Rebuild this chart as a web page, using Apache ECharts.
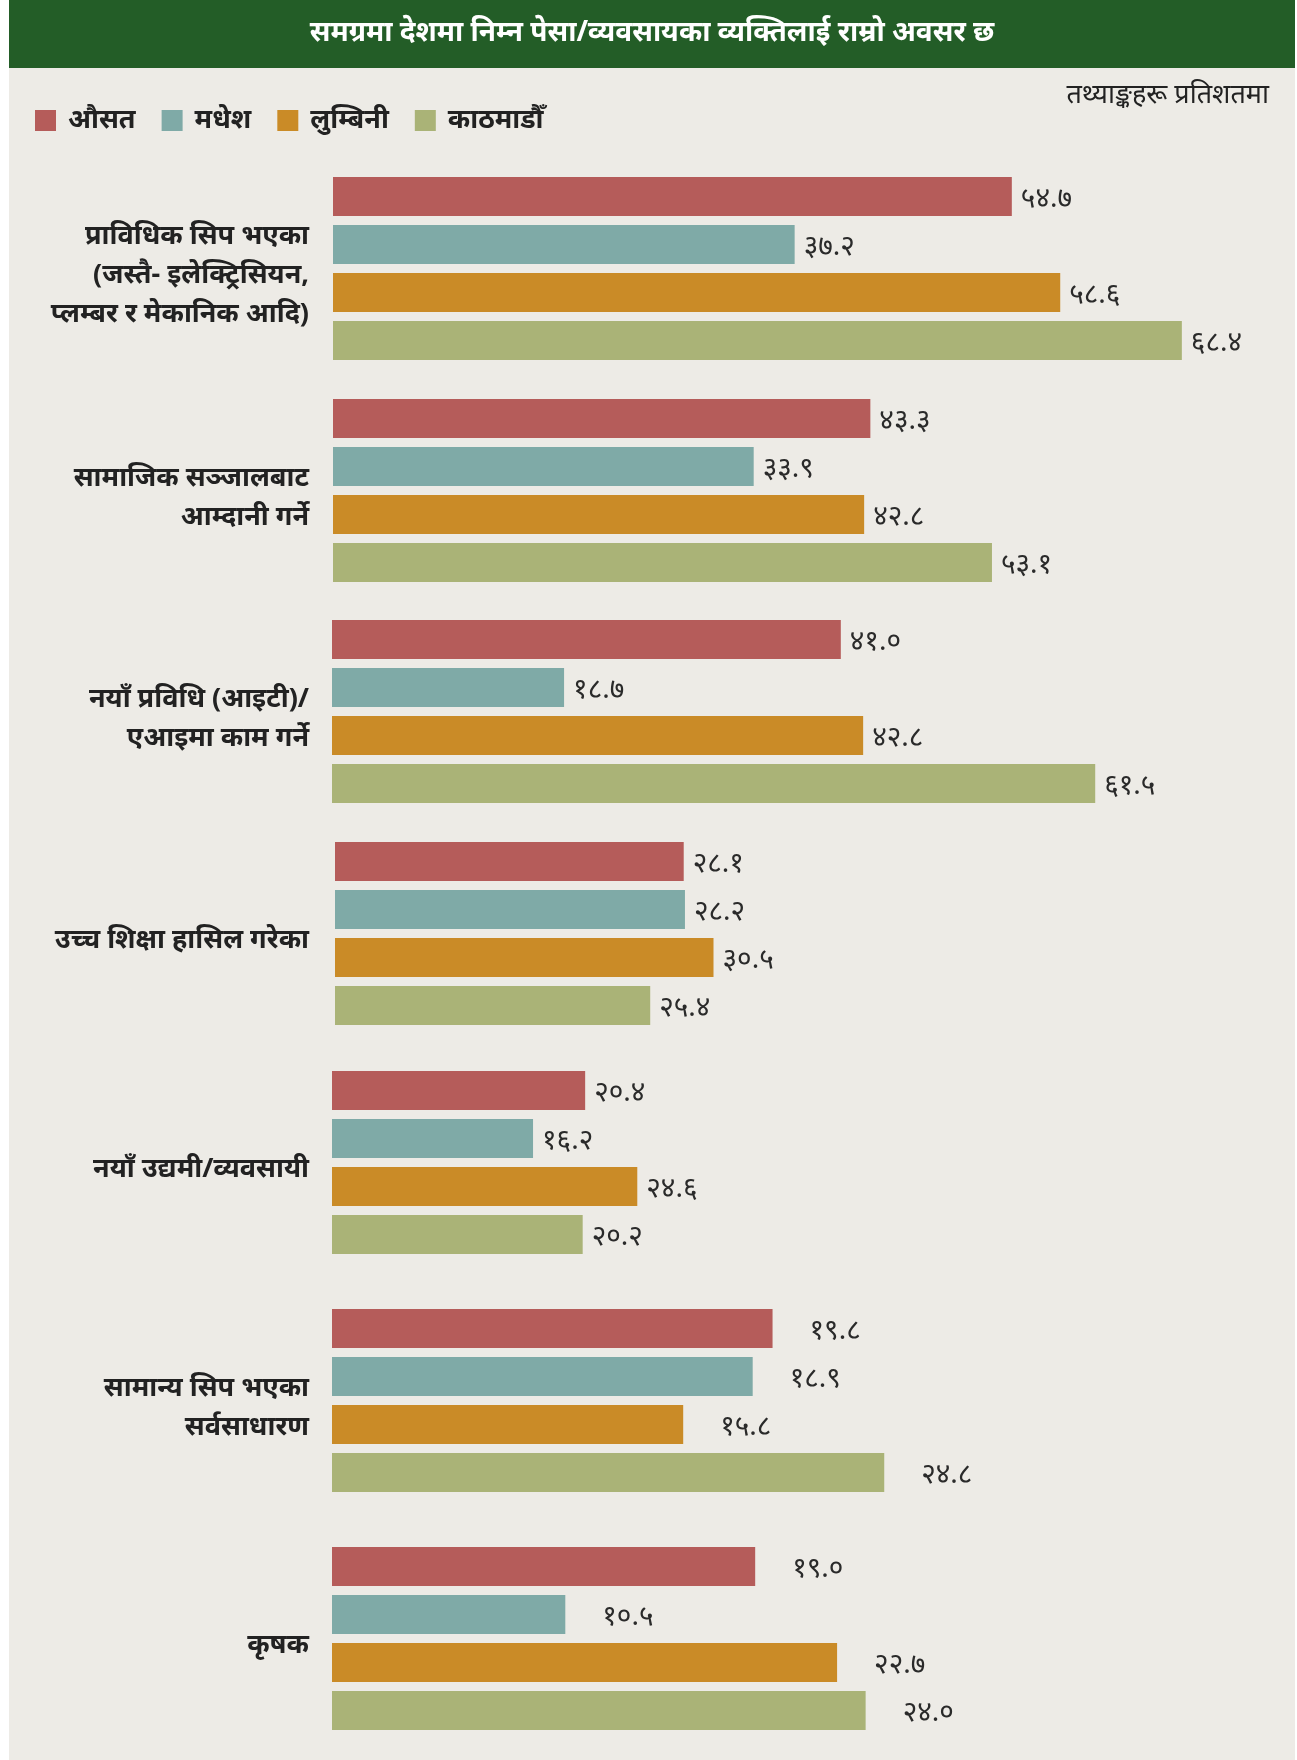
<!DOCTYPE html>
<html>
<head>
<meta charset="utf-8">
<script src="https://cdn.jsdelivr.net/npm/echarts@6/dist/echarts.min.js"></script>
<style>
html,body{margin:0;padding:0;background:#ffffff;}
#chart{width:1297px;height:1760px;}
</style>
</head>
<body>
<div id="chart"></div>
<script>
// ---- data ----
const categories = [
  'प्राविधिक सिप भएका\n(जस्तै- इलेक्ट्रिसियन,\nप्लम्बर र मेकानिक आदि)',
  'सामाजिक सञ्जालबाट\nआम्दानी गर्ने',
  'नयाँ प्रविधि (आइटी)/\nएआइमा काम गर्ने',
  'उच्च शिक्षा हासिल गरेका',
  'नयाँ उद्यमी/व्यवसायी',
  'सामान्य सिप भएका\nसर्वसाधारण',
  'कृषक'
];
const seriesNames = ['औसत', 'मधेश', 'लुम्बिनी', 'काठमाडौँ'];
// bar lengths as drawn in the picture
const ausat     = [54.7, 43.3, 41.0, 28.1, 20.4, 35.5, 34.1];
const madhesh   = [37.2, 33.9, 18.7, 28.2, 16.2, 33.9, 18.8];
const lumbini   = [58.6, 42.8, 42.8, 30.5, 24.6, 28.3, 40.7];
const kathmandu = [68.4, 53.1, 61.5, 25.4, 20.2, 44.5, 43.0];
// values as printed next to the bars
const ausatLabel     = [54.7, 43.3, 41.0, 28.1, 20.4, 19.8, 19.0];
const madheshLabel   = [37.2, 33.9, 18.7, 28.2, 16.2, 18.9, 10.5];
const lumbiniLabel   = [58.6, 42.8, 42.8, 30.5, 24.6, 15.8, 22.7];
const kathmanduLabel = [68.4, 53.1, 61.5, 25.4, 20.2, 24.8, 24.0];

const titleText = 'समग्रमा देशमा निम्न पेसा/व्यवसायका व्यक्तिलाई राम्रो अवसर छ';
const unitText = 'तथ्याङ्कहरू प्रतिशतमा';

// ---- layout / style ----
const colors = ['#b55c5a', '#7faaa7', '#ca8b27', '#aab377'];
const groupTops = [177, 399, 620, 842, 1071, 1309, 1547];
const groupLefts = [333, 333, 332, 335, 332, 332, 332];
const labelDist = [9, 9, 9, 9, 9, 37, 37];
const axisMax = 75;
const pxPerUnit = 12.41;
const FONT = '"Noto Sans", "Noto Sans Devanagari", sans-serif';

const barData = [ausat, madhesh, lumbini, kathmandu];
const labelData = [ausatLabel, madheshLabel, lumbiniLabel, kathmanduLabel];
const devDigits = '०१२३४५६७८९';
const toDev = s => String(s).replace(/[0-9]/g, d => devDigits[+d]);

const grids = [], xAxes = [], yAxes = [], series = [];
categories.forEach((cat, g) => {
  grids.push({left: groupLefts[g], top: groupTops[g], width: axisMax * pxPerUnit, height: 183, containLabel: false});
  xAxes.push({type: 'value', gridIndex: g, min: 0, max: axisMax, show: false});
  yAxes.push({
    type: 'category', gridIndex: g, data: [cat], inverse: true,
    axisLine: {show: false}, axisTick: {show: false}, splitLine: {show: false},
    axisLabel: {
      margin: groupLefts[g] - 309, align: 'right',
      formatter: v => '{s| }\n' + v.split('\n').map(l => '{a|' + l + '}').join('\n'),
      rich: {
        s: {fontSize: 1, lineHeight: 14},
        a: {fontFamily: FONT, fontSize: 27, fontWeight: 'bold', color: '#222', lineHeight: 39, align: 'right'}
      }
    }
  });
  seriesNames.forEach((name, s) => {
    series.push({
      type: 'bar', name: name, xAxisIndex: g, yAxisIndex: g,
      data: [barData[s][g]],
      barWidth: 39, barGap: '23.08%',
      itemStyle: {color: colors[s]},
      label: {
        show: true, position: 'right', distance: labelDist[g],
        formatter: () => toDev(labelData[s][g].toFixed(1)),
        fontFamily: FONT, fontSize: 28, color: '#2a2a2a', offset: [0, 3]
      },
      silent: true, animation: false
    });
  });
});

const chart = echarts.init(document.getElementById('chart'), null, {renderer: 'canvas'});
chart.setOption({
  animation: false,
  backgroundColor: '#ffffff',
  graphic: {elements: [
    {type: 'rect', z: -10, shape: {x: 9, y: 0, width: 1286, height: 1760}, style: {fill: '#edebe6'}},
    {type: 'rect', z: -5, shape: {x: 9, y: 0, width: 1286, height: 68}, style: {fill: '#235d27'}},
    {type: 'text', z: 10, x: 652, y: 33, style: {text: titleText, fill: '#ffffff', font: 'bold 28px ' + FONT, textAlign: 'center', textVerticalAlign: 'middle'}},
    {type: 'text', z: 10, x: 1269, y: 95, style: {text: unitText, fill: '#222', font: 'italic 27px ' + FONT, textAlign: 'right', textVerticalAlign: 'middle'}}
  ]},
  legend: {
    data: seriesNames, left: 35, top: 107, padding: 0, icon: 'rect', itemWidth: 21, itemHeight: 21, itemGap: 26,
    textStyle: {fontFamily: FONT, fontSize: 27, fontWeight: 'bold', color: '#222', padding: [0, 0, 0, 7]},
    selectedMode: false
  },
  grid: grids, xAxis: xAxes, yAxis: yAxes, series: series
});
</script>
</body>
</html>
